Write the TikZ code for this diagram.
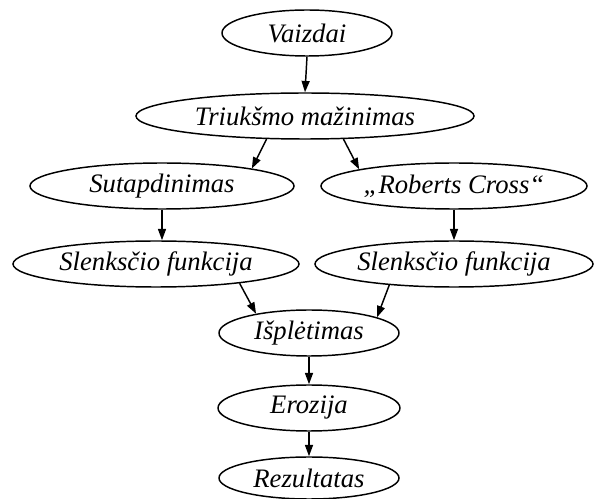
\documentclass[tikz,border=0pt]{standalone}
\usepackage{fontspec}
\setmainfont{Liberation Serif}
\usetikzlibrary{shapes.geometric,arrows.meta}

\begin{document}
\begin{tikzpicture}[x=0.75pt,y=0.75pt,yscale=-1,xscale=1,
  stage/.style={draw, ellipse, line width=1.1pt, inner sep=0pt, minimum height=34.5pt, font=\fontsize{20}{24}\selectfont\itshape},
  flow/.style={line width=1.1pt, -{Triangle[length=8.5pt,width=6pt]}}]
\useasboundingbox (0,0) rectangle (594,499);

% Ellipse nodes
\node (vai) at (307,33) [stage, minimum width=127.5pt] {Vaizdai};
\node (tri) at (305,116) [stage, minimum width=253.5pt] {Triukšmo mažinimas};
\node (sut) at (162,186) [stage, minimum width=198pt] {Sutapdinimas};
\node (rob) at (454,186) [stage, minimum width=199.5pt] {„Roberts Cross“};
\node (slk) at (156,264) [stage, minimum width=214.5pt] {Slenksčio funkcija};
\node (slr) at (454,264) [stage, minimum width=208.5pt] {Slenksčio funkcija};
\node (isp) at (309,333) [stage, minimum width=135pt] {Išplėtimas};
\node (ero) at (309,408) [stage, minimum width=136.5pt] {Erozija};
\node (rez) at (309,478) [stage, minimum width=135pt, minimum height=31.5pt] {Rezultatas};

% Arrows
\draw [flow] (vai.south) -- (tri.north);
\draw [flow] (tri.211) -- (sut.11);
\draw [flow] (tri.329.5) -- (rob.170);
\draw [flow] (sut.south) -- (sut.south |- slk.north);
\draw [flow] (rob) -- (slr);
\draw [flow] (slk.347) -- (isp.160);
\draw [flow] (slr.198.7) -- (isp.13);
\draw [flow] (isp) -- (ero);
\draw [flow] (ero) -- (rez);

\end{tikzpicture}
\end{document}
